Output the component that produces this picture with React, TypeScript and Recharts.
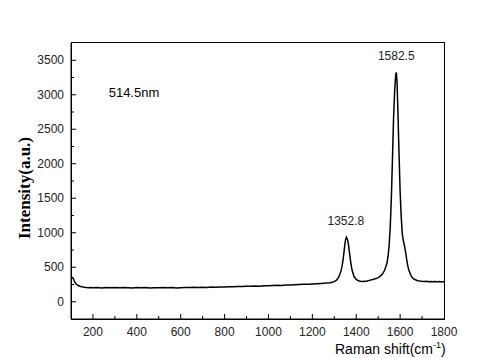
import React from "react";
import { LineChart, Line, XAxis, YAxis, ReferenceDot } from "recharts";

// Raman shift (cm-1)
const shifts = [
  100, 105, 110, 115, 120, 130, 140, 150, 160, 170, 180, 190, 200, 220, 240,
  260, 280, 300, 320, 340, 360, 380, 400, 420, 440, 460, 480, 500, 520, 540,
  560, 580, 600, 620, 640, 660, 680, 700, 720, 740, 760, 780, 800, 820, 840,
  860, 880, 900, 920, 940, 960, 980, 1000, 1020, 1040, 1060, 1080, 1100, 1120,
  1140, 1160, 1180, 1200, 1220, 1240, 1260, 1280, 1290, 1300, 1310, 1320, 1330,
  1335, 1340, 1345, 1350, 1355, 1360, 1365, 1370, 1375, 1380, 1390, 1400, 1410,
  1420, 1430, 1440, 1450, 1460, 1470, 1480, 1490, 1500, 1510, 1520, 1530, 1540,
  1545, 1550, 1555, 1560, 1565, 1570, 1575, 1580, 1583, 1586, 1590, 1595, 1600,
  1605, 1610, 1615, 1620, 1625, 1630, 1635, 1640, 1650, 1660, 1670, 1680, 1690,
  1700, 1710, 1720, 1730, 1740, 1750, 1760, 1770, 1780, 1790, 1800,
];

// Intensity (a.u.)
const intensities = [
  345, 352, 338, 300, 268, 240, 224, 216, 210, 207, 204, 208, 203, 206, 201,
  205, 203, 207, 202, 206, 204, 200, 205, 203, 207, 201, 204, 202, 206, 203,
  205, 201, 204, 207, 205, 209, 206, 210, 208, 212, 210, 215, 214, 218, 216,
  221, 220, 224, 223, 228, 226, 231, 232, 235, 238, 237, 242, 244, 246, 249,
  252, 255, 258, 262, 266, 270, 276, 282, 292, 312, 355, 440, 510, 610, 740,
  880, 935, 905, 820, 690, 570, 470, 365, 325, 305, 296, 292, 298, 302, 310,
  318, 326, 336, 350, 370, 405, 460, 560, 660, 820, 1080, 1500, 2050, 2650,
  3050, 3290, 3325, 3180, 2750, 2150, 1600, 1230, 980, 880, 810, 720, 610, 520,
  455, 375, 335, 318, 305, 300, 296, 293, 298, 291, 295, 289, 294, 290, 293,
  288, 292,
];

const xTicks = [
  100, 200, 300, 400, 500, 600, 700, 800, 900, 1000, 1100, 1200, 1300, 1400,
  1500, 1600, 1700, 1800,
];
const yTicks = [
  -250, 0, 250, 500, 750, 1000, 1250, 1500, 1750, 2000, 2250, 2500, 2750,
  3000, 3250, 3500, 3750,
];
const xLabeled = [200, 400, 600, 800, 1000, 1200, 1400, 1600, 1800];
const yLabeled = [0, 500, 1000, 1500, 2000, 2500, 3000, 3500];

const peaks = [
  { shift: 1352.8, value: 935, label: "1352.8" },
  { shift: 1582.5, value: 3325, label: "1582.5" },
];

const data = shifts.map((s, i) => ({ shift: s, intensity: intensities[i] }));

const tickColor = "#222";
const font = "Arial, 'Liberation Sans', sans-serif";

// plot box (matches chart margins below)
const plot = { left: 71, top: 43, right: 444, bottom: 319 };

const XTick = (props: any) => {
  const { x, y, payload } = props;
  const v = payload.value;
  if (v === 100) return null;
  const major = xLabeled.includes(v);
  return (
    <g>
      {v !== 1800 && (
        <line x1={x} y1={y} x2={x} y2={y - (major ? 5 : 3)} stroke="#000" />
      )}
      {major && (
        <text
          x={x}
          y={y + 17}
          textAnchor="middle"
          fontSize={12}
          fontFamily={font}
          fill={tickColor}
        >
          {v}
        </text>
      )}
    </g>
  );
};

const YTick = (props: any) => {
  const { x, y, payload } = props;
  const v = payload.value;
  if (v === -250 || v === 3750) return null;
  const major = yLabeled.includes(v);
  return (
    <g>
      <line x1={x} y1={y} x2={x + (major ? 5 : 3)} y2={y} stroke="#000" />
      {major && (
        <text
          x={x - 7}
          y={y + 4}
          textAnchor="end"
          fontSize={12}
          fontFamily={font}
          fill={tickColor}
        >
          {v}
        </text>
      )}
    </g>
  );
};

export default function App() {
  return (
    <div
      style={{
        position: "relative",
        left: -8,
        top: -8,
        width: 480,
        height: 358,
        background: "#fff",
      }}
    >
      {/* frame box behind the chart */}
      <div
        style={{
          position: "absolute",
          left: plot.left,
          top: plot.top - 1,
          width: plot.right - plot.left - 1,
          height: plot.bottom - plot.top,
          border: "1px solid #000",
          boxSizing: "content-box",
        }}
      />
      <LineChart
        width={480}
        height={358}
        data={data}
        margin={{ top: plot.top, right: 480 - plot.right, left: 0, bottom: 0 }}
        style={{ position: "absolute", left: 0, top: 0 }}
      >
        <XAxis
          dataKey="shift"
          type="number"
          domain={[100, 1800]}
          ticks={xTicks}
          interval={0}
          allowDataOverflow
          height={358 - plot.bottom}
          tickSize={0}
          tickMargin={0}
          tickLine={false}
          tick={<XTick />}
          axisLine={{ stroke: "#000", strokeWidth: 1 }}
        />
        <YAxis
          type="number"
          domain={[-250, 3750]}
          ticks={yTicks}
          interval={0}
          allowDataOverflow
          width={plot.left}
          tickSize={0}
          tickMargin={0}
          tickLine={false}
          tick={<YTick />}
          axisLine={{ stroke: "#000", strokeWidth: 1 }}
          label={{
            value: "Intensity(a.u.)",
            angle: -90,
            position: "center",
            dx: -12,
            dy: 7,
            style: {
              fontFamily: "'Liberation Serif', 'Times New Roman', serif",
              fontWeight: "bold",
              fontSize: 17,
              fill: "#000",
            },
          }}
        />
        <Line
          type="linear"
          dataKey="intensity"
          stroke="#000"
          strokeWidth={1.5}
          dot={false}
          isAnimationActive={false}
        />
        {peaks.map((p) => (
          <ReferenceDot
            key={p.label}
            x={p.shift}
            y={p.value}
            r={0}
            fill="none"
            stroke="none"
            label={{
              value: p.label,
              position: "top",
              offset: 12,
              style: { fontFamily: font, fontSize: 12, fill: tickColor },
            }}
          />
        ))}
        <ReferenceDot
          x={387}
          y={3040}
          r={0}
          fill="none"
          stroke="none"
          label={{
            value: "514.5nm",
            position: "center",
            style: { fontFamily: font, fontSize: 13, fill: "#000" },
          }}
        />
      </LineChart>
      <div
        style={{
          position: "absolute",
          left: 335,
          top: 341,
          fontFamily: font,
          fontSize: 14,
          color: "#000",
          whiteSpace: "nowrap",
          lineHeight: "16px",
        }}
      >
        Raman shift(cm
        <sup style={{ fontSize: 9, verticalAlign: "top", lineHeight: "9px" }}>
          -1
        </sup>
        )
      </div>
    </div>
  );
}
